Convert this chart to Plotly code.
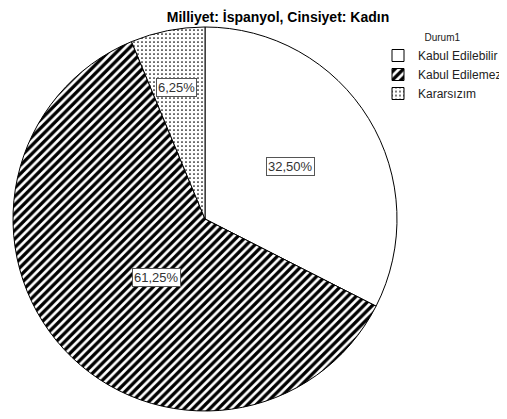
import math
import plotly.graph_objects as go

labels = ["Kabul Edilebilir", "Kabul Edilemez", "Kararsızım"]
values = [32.50, 61.25, 6.25]
text_labels = ["32,50%", "61,25%", "6,25%"]
label_radius = [0.52, 0.52, 0.75]

# The page body has an 8px margin, so the figure is sized to the window minus it
OFF = 8
W, H = 507 - OFF, 419 - OFF
cx, cy, R = 205 - OFF, 219 - OFF, 192

fig = go.Figure()
fig.add_trace(go.Pie(
    labels=labels, values=values, sort=False, direction="clockwise", rotation=0,
    textinfo="none", hoverinfo="label+percent",
    marker=dict(
        colors=["white", "white", "white"],
        line=dict(color="black", width=1),
        pattern=dict(shape=["", "/", "."], fgcolor="black", bgcolor="white",
                     size=[6, 6, 4], solidity=[0.2, 0.55, 0.15]),
    ),
    domain=dict(x=[(cx - R) / W, (cx + R) / W], y=[(H - cy - R) / H, (H - cy + R) / H]),
))

total = sum(values)
cum = 0
for v, t, rf in zip(values, text_labels, label_radius):
    mid = (cum + v / 2) / total * 2 * math.pi
    cum += v
    px = cx + rf * R * math.sin(mid)
    py = cy - rf * R * math.cos(mid)
    fig.add_annotation(x=px / W, y=1 - py / H, xref="paper", yref="paper", text=t,
                       showarrow=False, bgcolor="white", bordercolor="#555555",
                       borderwidth=1, borderpad=1,
                       font=dict(family="Liberation Sans, Arial", size=13, color="#333333"))

fig.update_layout(
    width=W, height=H, margin=dict(l=0, r=0, t=0, b=0, autoexpand=False),
    paper_bgcolor="white", plot_bgcolor="white",
    title=dict(text="<b>Milliyet: İspanyol, Cinsiyet: Kadın</b>", x=(278 - OFF) / W, xanchor="center",
               y=1 - (17 - OFF) / H, yanchor="middle",
               font=dict(family="Liberation Sans, Arial", size=14, color="black")),
    legend=dict(x=1, y=1 - (28 - OFF) / H, xanchor="right", yanchor="top",
                title=dict(text="Durum1", side="top center",
                           font=dict(family="Liberation Sans, Arial", size=10, color="#222222")),
                font=dict(family="Liberation Sans, Arial", size=12, color="#222222"),
                itemwidth=30, tracegroupgap=0, bgcolor="rgba(0,0,0,0)"),
)

fig.write_html("out.html")
